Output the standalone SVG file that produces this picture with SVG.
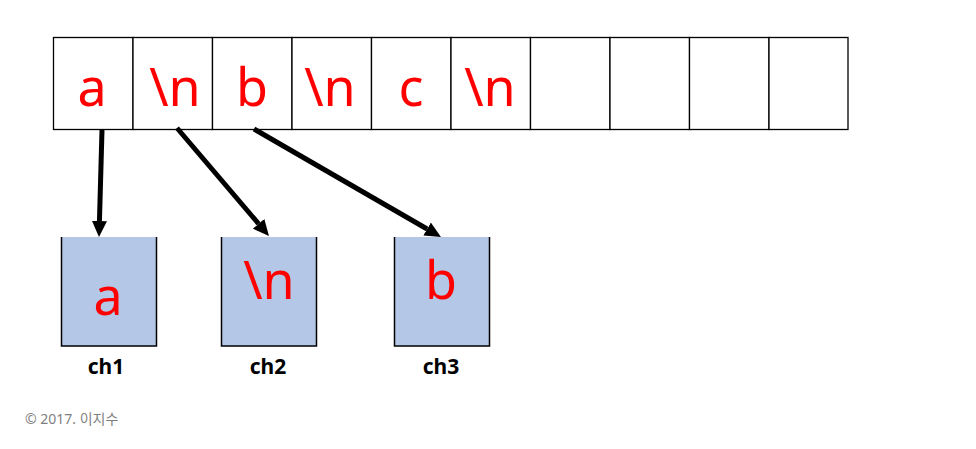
<svg xmlns="http://www.w3.org/2000/svg" width="976" height="449" viewBox="0 0 976 449">
<style>
.cell{fill:#fff;stroke:#000;stroke-width:1.3}
.big{font-family:"Noto Sans","Open Sans",sans-serif;font-size:52px;fill:#ff0000;text-anchor:middle}
.cup{fill:#b4c7e7;stroke:none}
.cupline{fill:none;stroke:#000;stroke-width:1.5}
.lbl{font-family:"Noto Sans","Open Sans",sans-serif;font-size:21px;font-weight:bold;fill:#000;text-anchor:middle}
.conn{stroke:#000;stroke-width:5;fill:none;marker-end:url(#ah)}
</style>
<defs>
<marker id="ah" markerWidth="3.2" markerHeight="3" refX="0" refY="1.5" orient="auto" markerUnits="strokeWidth">
<path d="M0,0 L3.2,1.5 L0,3 Z" fill="#000"/>
</marker>
</defs>
<rect width="976" height="449" fill="#fff"/>
<g id="array">
<rect class="cell" x="53.5" y="37.5" width="79.5" height="92"/>
<rect class="cell" x="133" y="37.5" width="79.5" height="92"/>
<rect class="cell" x="212.5" y="37.5" width="79.5" height="92"/>
<rect class="cell" x="292" y="37.5" width="79.5" height="92"/>
<rect class="cell" x="371.5" y="37.5" width="79.5" height="92"/>
<rect class="cell" x="451" y="37.5" width="79.5" height="92"/>
<rect class="cell" x="530.5" y="37.5" width="79.5" height="92"/>
<rect class="cell" x="610" y="37.5" width="79.5" height="92"/>
<rect class="cell" x="689.5" y="37.5" width="79.5" height="92"/>
<rect class="cell" x="769" y="37.5" width="79" height="92"/>
<text class="big" x="92" y="106">a</text>
<text class="big" x="175" y="106">\n</text>
<text class="big" x="252" y="106">b</text>
<text class="big" x="330" y="106">\n</text>
<text class="big" x="411" y="106">c</text>
<text class="big" x="490" y="106">\n</text>
</g>
<g id="ch1">
<rect class="cup" x="61" y="237" width="96" height="109"/>
<path class="cupline" d="M61.5,237 V346 H156.5 V237"/>
<text class="big" x="108" y="315">a</text>
<text class="lbl" x="106" y="374">ch1</text>
</g>
<g id="ch2">
<rect class="cup" x="221" y="237" width="96" height="109"/>
<path class="cupline" d="M221.5,237 V346 H316.5 V237"/>
<text class="big" x="269" y="299">\n</text>
<text class="lbl" x="268" y="374">ch2</text>
</g>
<g id="ch3">
<rect class="cup" x="394" y="237" width="96" height="109"/>
<path class="cupline" d="M394.5,237 V346 H489.5 V237"/>
<text class="big" x="441" y="299">b</text>
<text class="lbl" x="441" y="374">ch3</text>
</g>
<g id="connectors">
<line class="conn" x1="102" y1="130" x2="99.45" y2="221"/>
<line class="conn" x1="177" y1="128" x2="258.6" y2="223.8"/>
<line class="conn" x1="254" y1="129" x2="427.1" y2="229"/>
</g>
<text x="25" y="424" font-family="'Noto Sans','Noto Sans CJK KR',sans-serif" font-size="14" fill="#7f7f7f">© 2017. 이지수</text>
</svg>
